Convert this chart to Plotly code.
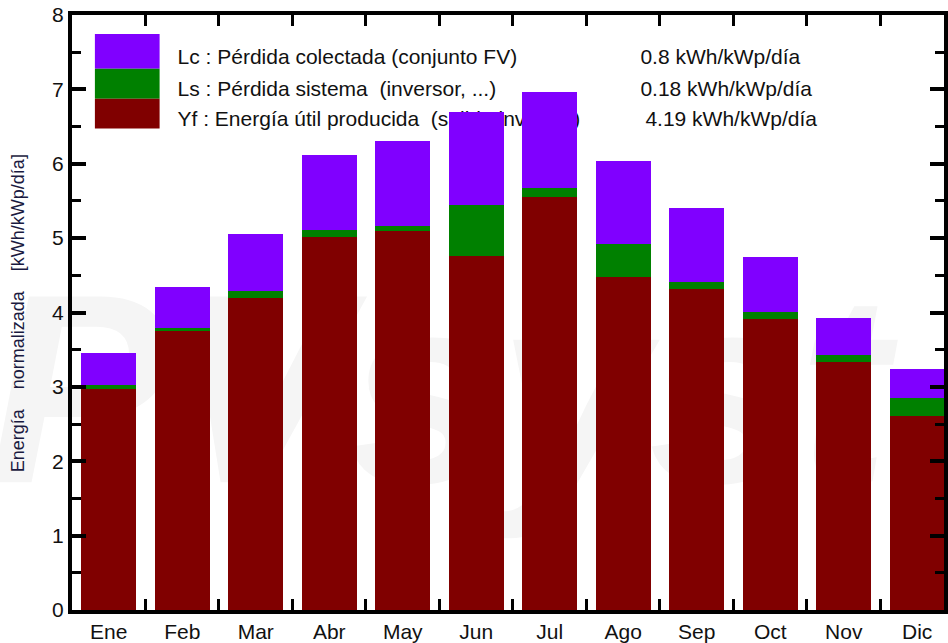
import plotly.graph_objects as go

months = ["Ene", "Feb", "Mar", "Abr", "May", "Jun", "Jul", "Ago", "Sep", "Oct", "Nov", "Dic"]
yf = [2.97, 3.75, 4.19, 5.01, 5.09, 4.76, 5.55, 4.48, 4.32, 3.91, 3.34, 2.61]
ls = [0.06, 0.04, 0.10, 0.10, 0.07, 0.69, 0.12, 0.44, 0.09, 0.10, 0.09, 0.24]
lc = [0.43, 0.55, 0.76, 1.01, 1.15, 1.24, 1.30, 1.12, 0.99, 0.73, 0.50, 0.39]

series_names = ["Yf", "Ls", "Lc"]
legend_labels = [
    "Lc : Pérdida colectada (conjunto FV)",
    "Ls : Pérdida sistema\u00a0 (inversor, ...)",
    "Yf : Energía útil producida\u00a0 (salida inversor)",
]
legend_values = ["0.8 kWh/kWp/día", "0.18 kWh/kWp/día", "4.19 kWh/kWp/día"]
y_title = "Energía\u00a0\u00a0\u00a0 normalizada\u00a0\u00a0\u00a0 [kWh/kWp/día]"

C_YF = "#800000"
C_LS = "#008000"
C_LC = "#8000ff"

W, H = 948, 643
L, R, T, B = 72, 0, 15, 31
PW = W - L - R
PH = H - T - B


def px(x):
    return (x - L) / PW


def py(y):
    return (H - B - y) / PH


fig = go.Figure()
for vals, name, col in [(yf, "Yf", C_YF), (ls, "Ls", C_LS), (lc, "Lc", C_LC)]:
    fig.add_trace(go.Bar(x=months, y=vals, name=name, marker=dict(color=col, line=dict(width=0)),
                         showlegend=False, hoverinfo="skip"))

FONT = "Liberation Sans, Arial, sans-serif"
TXT = "#111111"
shapes = []
# watermark
shapes.append(dict(type="rect", xref="paper", yref="paper", x0=px(-20), x1=px(900), y0=py(470), y1=py(260),
                   line=dict(width=0), fillcolor="rgba(0,0,0,0)", layer="below",
                   label=dict(text="PVsyst", textposition="middle center", padding=0,
                              font=dict(family=FONT, size=270, color="#f5f5f5", weight="bold", style="italic"))))
# legend boxes
for (y0, y1, col) in [(34, 69, C_LC), (69, 99, C_LS), (99, 129, C_YF)]:
    shapes.append(dict(type="rect", xref="paper", yref="paper", x0=px(95), x1=px(160), y0=py(y1), y1=py(y0),
                       line=dict(width=0), fillcolor=col, layer="below"))
rows = [55, 87, 117]
val_x = [640, 640, 645]
for i in range(3):
    shapes.append(dict(type="rect", xref="paper", yref="paper", x0=px(175), x1=px(620), y0=py(rows[i] + 12),
                       y1=py(rows[i] - 12), line=dict(width=0), fillcolor="rgba(0,0,0,0)", layer="below",
                       label=dict(text=legend_labels[i], textposition="middle left", padding=0,
                                  font=dict(family=FONT, size=21, color=TXT))))
    shapes.append(dict(type="rect", xref="paper", yref="paper", x0=px(val_x[i]), x1=px(900), y0=py(rows[i] + 12),
                       y1=py(rows[i] - 12), line=dict(width=0), fillcolor="rgba(0,0,0,0)", layer="below",
                       label=dict(text=legend_values[i], textposition="middle left", padding=0,
                                  font=dict(family=FONT, size=21, color=TXT))))

fig.update_layout(
    width=W, height=H,
    margin=dict(l=L, r=R, t=T, b=B, pad=0),
    paper_bgcolor="white", plot_bgcolor="white",
    barmode="stack", bargap=0.255,
    font=dict(family=FONT, color=TXT),
    shapes=shapes,
    annotations=[dict(text=y_title, xref="paper", yref="paper", x=px(18), y=py(314), xanchor="center",
                      yanchor="middle", textangle=-90, showarrow=False,
                      font=dict(family=FONT, size=18, color="#1a1a40"))],
)
fig.update_xaxes(
    type="category", categoryorder="array", categoryarray=months,
    range=[-0.5, 11.5 - 10 / 73.86],
    tickson="boundaries", ticks="inside", ticklen=11, tickwidth=3, tickcolor="black",
    showline=True, linewidth=4, linecolor="black", mirror="allticks",
    showgrid=False, zeroline=False,
    tickfont=dict(family=FONT, size=21, color=TXT),
)
fig.update_yaxes(
    range=[0, 8], dtick=1, tick0=0,
    ticks="inside", ticklen=14, tickwidth=4, tickcolor="black",
    showline=True, linewidth=4, linecolor="black", mirror="allticks",
    showgrid=False, zeroline=False,
    minor=dict(dtick=0.5, ticks="inside", ticklen=9, tickwidth=3, tickcolor="black", showgrid=False),
    tickfont=dict(family=FONT, size=21, color=TXT),
)

fig.write_html("out.html", config={"displayModeBar": False},
               post_script="document.body.style.margin='0';document.body.style.padding='0';")
